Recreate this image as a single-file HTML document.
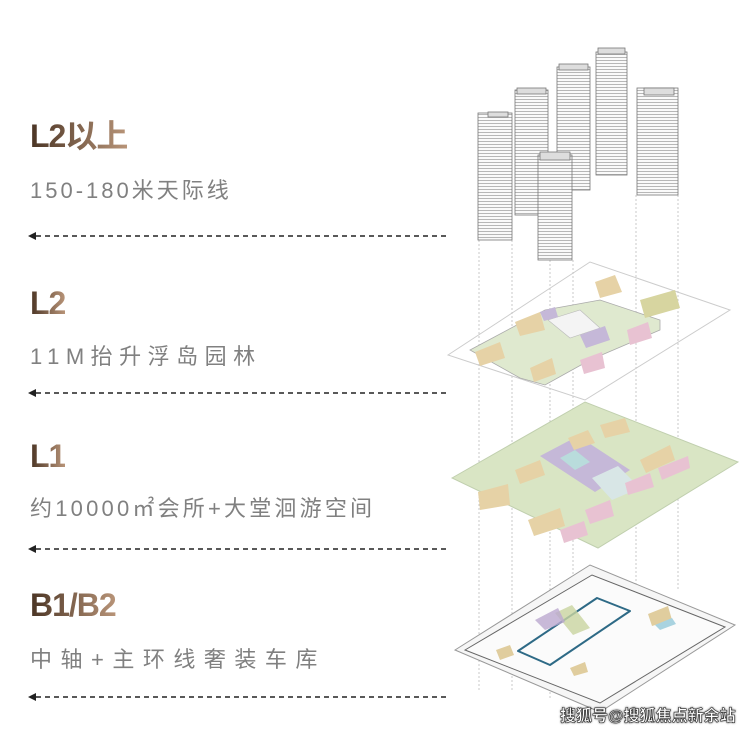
<!DOCTYPE html>
<html><head><meta charset="utf-8"><style>
html,body{margin:0;padding:0;background:#fff;}
body{width:740px;height:729px;position:relative;overflow:hidden;font-family:"Liberation Sans","Noto Sans CJK SC",sans-serif;}
.t{position:absolute;left:30px;font-weight:bold;font-size:32px;line-height:36px;background:linear-gradient(90deg,#4a3424,#b89478);-webkit-background-clip:text;background-clip:text;color:transparent;letter-spacing:-1px;}
.s{position:absolute;left:30px;font-size:22px;line-height:26px;color:#808080;white-space:nowrap;}
svg{position:absolute;left:0;top:0;}
.wm{position:absolute;left:560px;top:702px;font-size:16px;font-weight:bold;color:#fff;-webkit-text-stroke:0.6px #333;text-shadow:0 0 2px #000;}
</style></head><body>
<svg width="740" height="729" viewBox="0 0 740 729">
<defs>
<pattern id="h" width="4" height="3" patternUnits="userSpaceOnUse"><rect width="4" height="3" fill="#fafafa"/><line x1="0" y1="0.5" x2="4" y2="0.5" stroke="#9a9a9a" stroke-width="0.7"/></pattern>
</defs>
<g stroke="#222" stroke-width="1.6" stroke-dasharray="5,4">
<line x1="36" y1="236" x2="450" y2="236"/>
<line x1="36" y1="393" x2="450" y2="393"/>
<line x1="36" y1="549" x2="450" y2="549"/>
<line x1="36" y1="697" x2="450" y2="697"/>
</g>
<g fill="#222"><path d="M28,236 l8,-4 v8z"/><path d="M28,393 l8,-4 v8z"/><path d="M28,549 l8,-4 v8z"/><path d="M28,697 l8,-4 v8z"/></g>
<g stroke="#bbb" stroke-width="0.8" stroke-dasharray="2,2">
<line x1="479" y1="240" x2="479" y2="690"/><line x1="512" y1="240" x2="512" y2="690"/>
<line x1="550" y1="260" x2="550" y2="700"/><line x1="573" y1="260" x2="573" y2="640"/>
<line x1="636" y1="195" x2="636" y2="600"/><line x1="678" y1="195" x2="678" y2="590"/>
</g>
<polygon points="455,650 590,565 735,625 600,712" fill="#f6f6f6" stroke="#999" stroke-width="1"/>
<polygon points="465,650 592,575 725,627 600,703" fill="#fbfbfb" stroke="#666" stroke-width="1"/>
<polygon points="518,651 597,598 630,611 550,665" fill="none" stroke="#2e6a86" stroke-width="2" stroke-linejoin="round"/>
<polygon points="555,613 572,605 590,628 573,635" fill="#c9d4a0" opacity=".8"/>
<polygon points="535,620 558,608 565,622 545,630" fill="#bba9cf" opacity=".8"/>
<polygon points="648,614 668,606 672,620 652,626" fill="#e0cd9e"/>
<polygon points="496,650 510,645 514,655 500,660" fill="#e0cd9e"/>
<polygon points="570,668 585,662 588,672 574,676" fill="#e0cd9e"/>
<polygon points="655,625 672,618 676,624 660,630" fill="#a9d3e0"/>
<polygon points="452,478 585,402 738,462 598,548" fill="#d9e5c4" stroke="#c0cfae" stroke-width="1"/>
<polygon points="540,456 578,436 630,470 595,492" fill="#c5b8d8"/>
<polygon points="560,458 575,450 590,462 575,470" fill="#b9dcdc"/>
<polygon points="592,478 618,466 640,488 612,500" fill="#d8e6e6"/>
<polygon points="478,492 508,484 510,505 480,510" fill="#e6d2a6"/>
<polygon points="515,470 540,460 545,475 520,484" fill="#e6d2a6"/>
<polygon points="528,520 560,508 565,526 534,536" fill="#e6d2a6"/>
<polygon points="560,530 584,521 588,535 564,543" fill="#e8c2d2"/>
<polygon points="585,510 610,500 614,516 590,524" fill="#e8c2d2"/>
<polygon points="625,483 650,473 654,487 628,495" fill="#e8c2d2"/>
<polygon points="640,460 670,445 675,460 646,473" fill="#e6d2a6"/>
<polygon points="658,468 688,456 690,468 662,480" fill="#e8c2d2"/>
<polygon points="568,438 588,430 595,443 574,450" fill="#e6d2a6"/>
<polygon points="600,425 625,418 630,432 605,438" fill="#e6d2a6"/>
<polygon points="448,355 590,262 730,310 585,400" fill="none" stroke="#ccc" stroke-width="1"/>
<polygon points="470,350 545,310 600,300 660,320 660,330 590,360 545,385 520,378" fill="#dfe9cf" stroke="#aaa" stroke-width="0.8"/>
<polygon points="548,320 580,310 600,328 570,338" fill="#f4f4f4" stroke="#bbb" stroke-width="0.6"/>
<polygon points="475,352 500,342 505,358 480,366" fill="#e6d2a6"/>
<polygon points="515,322 540,312 545,330 520,336" fill="#e6d2a6"/>
<polygon points="595,282 615,275 622,292 600,298" fill="#e6d2a6"/>
<polygon points="640,300 675,290 680,308 645,318" fill="#d7d5a0"/>
<polygon points="580,335 605,326 610,340 586,348" fill="#c5b8d8"/>
<polygon points="540,312 555,307 558,317 544,321" fill="#c5b8d8"/>
<polygon points="627,330 648,322 652,338 630,345" fill="#e8c2d2"/>
<polygon points="580,360 602,352 605,368 584,374" fill="#e8c2d2"/>
<polygon points="530,368 552,358 556,374 534,382" fill="#e6d2a6"/>
<g stroke="#777" stroke-width="0.8">
<rect x="478" y="113" width="34" height="127" fill="url(#h)"/>
<rect x="515" y="90" width="33" height="125" fill="url(#h)"/>
<rect x="557" y="67" width="33" height="123" fill="url(#h)"/>
<rect x="596" y="52" width="31" height="123" fill="url(#h)"/>
<rect x="637" y="88" width="41" height="107" fill="url(#h)"/>
<rect x="538" y="155" width="34" height="105" fill="url(#h)"/>
</g>
<g fill="#ddd" stroke="#777" stroke-width="0.8">
<rect x="540" y="152" width="30" height="8"/><rect x="644" y="88" width="30" height="7"/>
<rect x="517" y="88" width="29" height="6"/><rect x="559" y="64" width="29" height="6"/>
<rect x="598" y="48" width="27" height="6"/><rect x="488" y="112" width="20" height="5"/>
</g>
</svg>
<div class="t" style="top:118px">L2以上</div>
<div class="s" style="top:178px;letter-spacing:3px">150-180米天际线</div>
<div class="t" style="top:285px">L2</div>
<div class="s" style="top:344px;letter-spacing:6.5px">11M抬升浮岛园林</div>
<div class="t" style="top:438px">L1</div>
<div class="s" style="top:496px;letter-spacing:3.2px">约10000㎡会所+大堂洄游空间</div>
<div class="t" style="top:587px">B1/B2</div>
<div class="s" style="top:647px;letter-spacing:8.5px">中轴+主环线奢装车库</div>
<div class="wm">搜狐号@搜狐焦点新余站</div>
</body></html>
